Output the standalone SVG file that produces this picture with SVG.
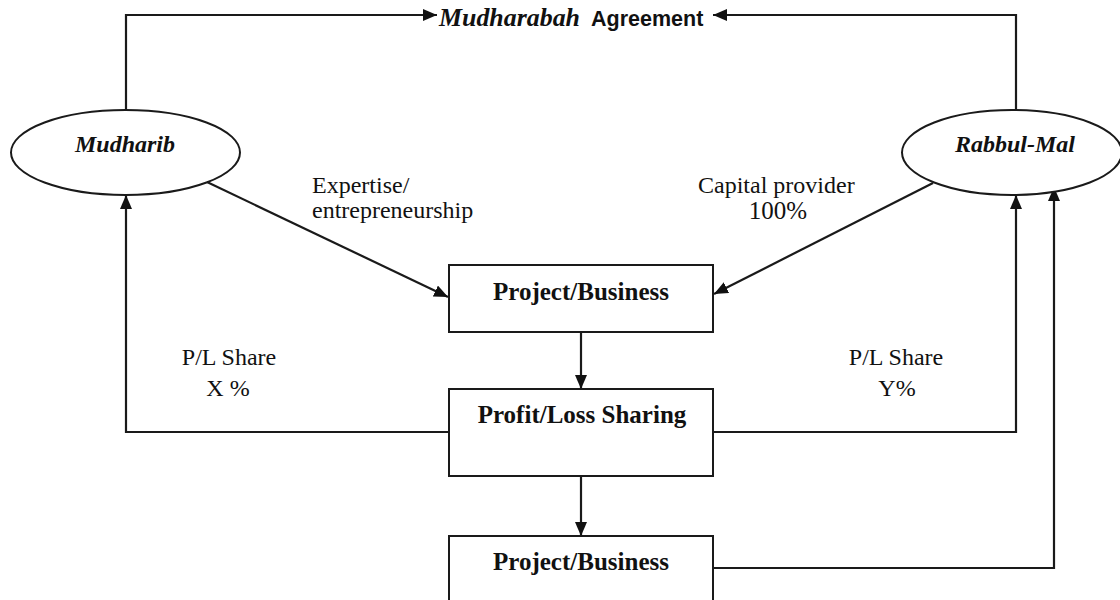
<svg xmlns="http://www.w3.org/2000/svg" width="1120" height="600" viewBox="0 0 1120 600">
  <style>
    .shape { fill: #ffffff; stroke: #1a1a1a; stroke-width: 2; }
    .conn { fill: none; stroke: #1a1a1a; stroke-width: 2.2; }
    .boxlabel { font-family: "Liberation Serif", "Times New Roman", serif; font-weight: bold; font-size: 25px; fill: #111; text-anchor: middle; }
    .actor { font-family: "Liberation Serif", "Times New Roman", serif; font-weight: bold; font-style: italic; font-size: 24px; fill: #111; text-anchor: middle; }
    .lbl { font-family: "Liberation Serif", "Times New Roman", serif; font-size: 24px; fill: #111; }
    .mid { text-anchor: middle; }
    .title-it { font-family: "Liberation Serif", "Times New Roman", serif; font-weight: bold; font-style: italic; font-size: 25px; fill: #111; }
    .title-sans { font-family: "Liberation Sans", Arial, sans-serif; font-weight: bold; font-size: 21.5px; fill: #111; }
  </style>
  <defs>
    <marker id="arrow" viewBox="0 0 14 12" refX="14" refY="6" markerWidth="14" markerHeight="12" markerUnits="userSpaceOnUse" orient="auto">
      <path d="M0,0 L14,6 L0,12 Z" fill="#111"/>
    </marker>
  </defs>

  <g id="connectors">
    <path class="conn" d="M126,110 V15 H437" marker-end="url(#arrow)"/>
    <path class="conn" d="M1016,110 V15 H713" marker-end="url(#arrow)"/>
    <path class="conn" d="M207,182 L448,297" marker-end="url(#arrow)"/>
    <path class="conn" d="M933,183 L714,294" marker-end="url(#arrow)"/>
    <path class="conn" d="M581,332 V389" marker-end="url(#arrow)"/>
    <path class="conn" d="M581,476 V536" marker-end="url(#arrow)"/>
    <path class="conn" d="M449,432 H126 V195" marker-end="url(#arrow)"/>
    <path class="conn" d="M713,432 H1016 V195" marker-end="url(#arrow)"/>
    <path class="conn" d="M713,568 H1054 V187" marker-end="url(#arrow)"/>
  </g>

  <g id="agreement">
    <text x="439" y="26" class="title-it" textLength="141" lengthAdjust="spacingAndGlyphs">Mudharabah</text>
    <text x="591" y="26" class="title-sans">Agreement</text>
  </g>

  <g id="mudharib">
    <ellipse class="shape" cx="125.5" cy="152.5" rx="114.5" ry="42.5"/>
    <text x="125" y="152" class="actor">Mudharib</text>
  </g>

  <g id="rabbul-mal">
    <ellipse class="shape" cx="1012" cy="152.5" rx="110" ry="42.5"/>
    <text x="1015" y="152" class="actor">Rabbul-Mal</text>
  </g>

  <g id="label-expertise">
    <text x="312" y="193" class="lbl">Expertise/</text>
    <text x="312" y="218" class="lbl">entrepreneurship</text>
  </g>

  <g id="label-capital">
    <text x="698" y="193" class="lbl">Capital provider</text>
    <text x="778" y="219" class="lbl mid" style="font-size:25px">100%</text>
  </g>

  <g id="project-business-1">
    <rect class="shape" x="449" y="265" width="264" height="67"/>
    <text x="581" y="300" class="boxlabel">Project/Business</text>
  </g>

  <g id="profit-loss-sharing">
    <rect class="shape" x="449" y="389" width="264" height="87"/>
    <text x="582" y="423" class="boxlabel">Profit/Loss Sharing</text>
  </g>

  <g id="project-business-2">
    <rect class="shape" x="449" y="536" width="264" height="80"/>
    <text x="581" y="570" class="boxlabel">Project/Business</text>
  </g>

  <g id="label-x-share">
    <text x="229" y="365" class="lbl mid">P/L Share</text>
    <text x="228" y="396" class="lbl mid">X %</text>
  </g>

  <g id="label-y-share">
    <text x="896" y="365" class="lbl mid">P/L Share</text>
    <text x="897" y="396" class="lbl mid">Y%</text>
  </g>
</svg>
